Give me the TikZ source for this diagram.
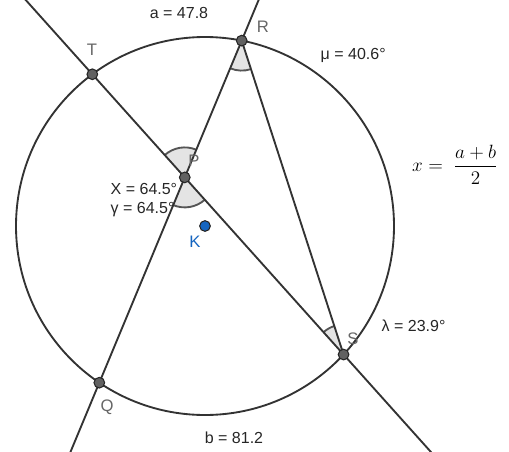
\documentclass[tikz,border=0pt]{standalone}
\usepackage{fontspec}
\setmainfont{Liberation Sans}
\usepackage{amsmath}
\usetikzlibrary{calc, angles}

\definecolor{lineclr}{HTML}{333333}
\definecolor{ptgray}{HTML}{616161}
\definecolor{labgray}{HTML}{666666}
\definecolor{arcgray}{HTML}{555555}
\definecolor{wedgefill}{HTML}{E4E4E4}
\definecolor{kblue}{HTML}{1565C0}

\begin{document}
\begin{tikzpicture}[x=0.75pt, y=0.75pt,
  geoline/.style={draw=lineclr, line width=1.4pt},
  point/.style={circle, draw=black!85, fill=ptgray, line width=0.8pt, minimum size=8pt, inner sep=0pt},
  plabel/.style={text=labgray, font=\fontsize{12.5}{14}\selectfont},
  value/.style={anchor=west, text=black!85, font=\fontsize{12}{14}\selectfont},
  wedge/.style={draw=arcgray, fill=wedgefill, line width=1.4pt, angle radius=22.5pt}
]
  \useasboundingbox (0,0) rectangle (509,451);
  \clip (0,0) rectangle (509,451);

  % circle and its points
  \coordinate (K) at (205,225);
  \coordinate (T) at ($(K)+(126.6:141.75pt)$);
  \coordinate (R) at ($(K)+(78.8:141.75pt)$);
  \coordinate (S) at ($(K)+(-42.85:141.75pt)$);
  \coordinate (Q) at ($(K)+(-124.0:141.75pt)$);
  \coordinate (P) at (intersection of T--S and Q--R);

  % angles
  \pic[wedge] {angle = R--P--T};
  \pic[wedge] {angle = Q--P--S};
  \pic[wedge] {angle = Q--R--S};
  \pic[wedge] {angle = R--S--T};

  \draw[geoline] (K) circle[radius=141.75pt];
  \draw[geoline] ($(T)!-0.3!(S)$) -- ($(S)!-0.4!(T)$);
  \draw[geoline] ($(Q)!-0.25!(R)$) -- ($(R)!-0.15!(Q)$);
  \draw[geoline] (R) -- (S);

  \node[point] (dT) at (T) {};
  \node[point] (dR) at (R) {};
  \node[point] (dS) at (S) {};
  \node[point] (dQ) at (Q) {};
  \node[point] (dP) at (P) {};
  \node[point, fill=kblue] (dK) at (K) {};

  \node[plabel] (lT) at (92,401) {T};
  \node[plabel] (lR) at (263,424) {R};
  \node[plabel] (lP) at (194,290) {P};
  \node[plabel] (lS) at (353,112) {S};
  \node[plabel] (lQ) at (107,44) {Q};
  \node[plabel, text=kblue] (lK) at (195,209) {K};

  \node[value, anchor=center] (va) at (179,438) {a = 47.8};
  \node[value, anchor=center] (vb) at (234,13) {b = 81.2};
  \node[value] (vmu) at (316,396) {μ = 40.6°};
  \node[value] (vlam) at (377,125) {λ = 23.9°};
  \node[value] (vX) at (106,262) {X = 64.5°};
  \node[value] (vgam) at (106,241) {γ = 64.5°};

  \node[font=\fontsize{14.4}{17}\selectfont] (formula) at (455,286) {$x = \;\dfrac{a+b}{2}$};
\end{tikzpicture}
\end{document}
